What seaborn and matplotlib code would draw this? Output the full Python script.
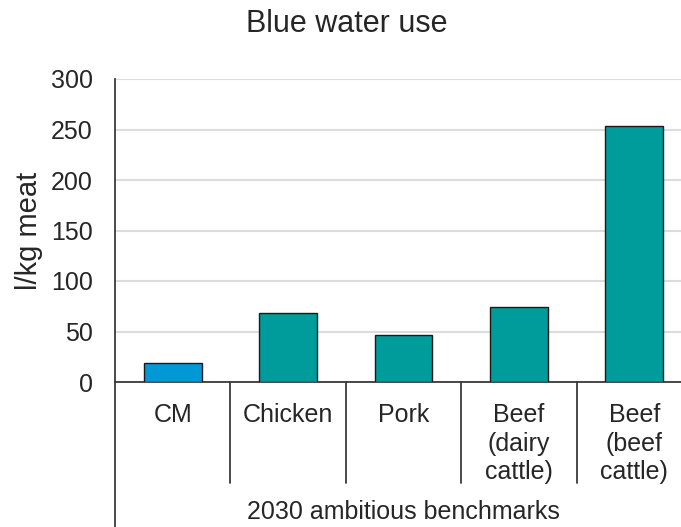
import matplotlib
matplotlib.use("Agg")
import matplotlib.pyplot as plt
import matplotlib.transforms as mtransforms
import seaborn as sns
import pandas as pd

# data
categories = ["CM", "Chicken", "Pork", "Beef\n(dairy\ncattle)", "Beef\n(beef\ncattle)"]
values = [19, 68, 47, 74, 253]
bar_colors = ["#0099d6", "#009b9b", "#009b9b", "#009b9b", "#009b9b"]
yticks = [0, 50, 100, 150, 200, 250, 300]
group_label = "2030 ambitious benchmarks"

sns.set_style("white")
plt.rcParams["font.family"] = ["Liberation Sans", "DejaVu Sans"]
txt = "#262626"
line_c = "#3a3a3a"

df = pd.DataFrame({"cat": categories, "val": values})

fig = plt.figure(figsize=(6.81, 5.27), dpi=100)
ax = fig.add_axes([115 / 681, 145 / 527, 577 / 681, 303 / 527])

sns.barplot(data=df, x="cat", y="val", hue="cat", palette=bar_colors, legend=False,
            saturation=1, width=0.5, edgecolor="#1a1a1a", linewidth=1.0, ax=ax, zorder=3)

ax.set_xlim(-0.5, len(categories) - 0.5)
ax.set_ylim(0, 300)
ax.set_yticks(yticks)
ax.yaxis.grid(True, color="#dcdcdc", linewidth=1.5, zorder=0)
ax.set_axisbelow(True)

for s in ["top", "right"]:
    ax.spines[s].set_visible(False)
ax.spines["left"].set_color(line_c)
ax.spines["left"].set_linewidth(1.3)
ax.spines["bottom"].set_color(line_c)
ax.spines["bottom"].set_linewidth(1.3)

ax.tick_params(axis="y", length=7, width=1.3, color=line_c, labelsize=18, labelcolor=txt, pad=9)
ax.tick_params(axis="x", length=0, labelsize=18, labelcolor=txt, pad=15)
for lab in ax.get_xticklabels():
    lab.set_linespacing(1.25)
    lab.set_verticalalignment("top")

ax.set_xlabel("")
ax.set_ylabel("l/kg meat", fontsize=21, color=txt)
ax.yaxis.set_label_coords(-0.125, 0.5)

trans = mtransforms.blended_transform_factory(ax.transData, ax.transAxes)
# category separators below the axis
for i in range(len(categories) - 1):
    ax.plot([i + 0.5, i + 0.5], [0, -0.333], transform=trans, color=line_c,
            linewidth=1.3, clip_on=False)
# left axis extends to the bottom
ax.plot([-0.5, -0.5], [0, -0.5], transform=trans, color=line_c,
        linewidth=1.3, clip_on=False)

ax.text(2, -0.429, group_label, transform=trans, ha="center", va="center",
        fontsize=18, color=txt)

fig.text(347 / 681, 1 - 24 / 527, "Blue water use", ha="center", va="center",
         fontsize=22, color=txt)

fig.savefig("out.png", dpi=100)
